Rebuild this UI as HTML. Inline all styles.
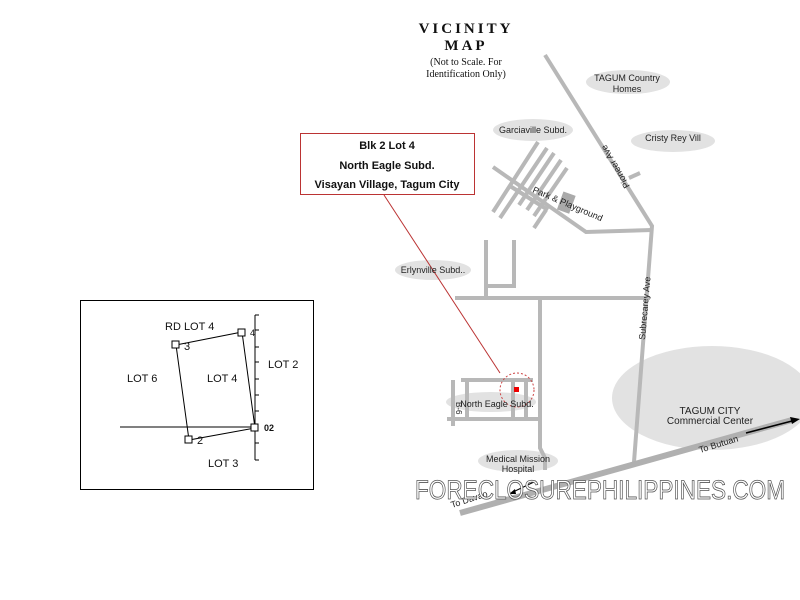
<!DOCTYPE html>
<html><head><style>body{margin:0;background:#fff}svg{display:block}</style></head><body>
<svg width="800" height="600" viewBox="0 0 800 600" xmlns="http://www.w3.org/2000/svg" font-family="Liberation Sans, sans-serif">
<rect width="800" height="600" fill="#fff"/>
<g fill="#e2e2e2">
<ellipse cx="628" cy="82" rx="42" ry="12"/>
<ellipse cx="533" cy="130" rx="40" ry="11"/>
<ellipse cx="673" cy="141" rx="42" ry="11"/>
<ellipse cx="433" cy="270" rx="38" ry="10"/>
<ellipse cx="491" cy="402" rx="45" ry="10"/>
<ellipse cx="518" cy="461" rx="40" ry="11"/>
<ellipse cx="712" cy="398" rx="100" ry="52"/>
</g>
<g stroke="#b8b8b8" stroke-width="4" fill="none">
<polyline points="545,55 652,226 634,462"/>
<line x1="629" y1="178" x2="640" y2="173"/>
<polyline points="493,167 586,232 652,230"/>
<line x1="510" y1="186" x2="548" y2="210"/>
<line x1="538" y1="142" x2="493" y2="212"/>
<line x1="547" y1="148" x2="500" y2="218"/>
<line x1="554" y1="153" x2="519" y2="205"/>
<line x1="561" y1="160" x2="527" y2="210"/>
<line x1="567" y1="168" x2="534" y2="216"/>
<line x1="546" y1="210" x2="534" y2="228"/>
<polyline points="486,240 486,300"/>
<polyline points="514,240 514,286 486,286"/>
<line x1="455" y1="298" x2="650" y2="298"/>
<polyline points="540,298 540,448 545,458 545,470"/>
<line x1="461" y1="380" x2="533" y2="380"/>
<line x1="447" y1="419" x2="540" y2="419"/>
<line x1="467" y1="380" x2="467" y2="419"/>
<line x1="453" y1="380" x2="453" y2="426"/>
<line x1="513" y1="380" x2="513" y2="419"/>
<line x1="526" y1="380" x2="526" y2="419"/>
</g>
<line x1="460" y1="513" x2="792" y2="420" stroke="#b0b0b0" stroke-width="6"/>
<rect x="560" y="193" width="13" height="19" fill="#aaa" transform="rotate(20 566 202)"/>
<line x1="746" y1="433" x2="792" y2="421" stroke="#000" stroke-width="1.5"/>
<polygon points="800,419 790,417 792,424" fill="#000"/>
<line x1="536" y1="481" x2="513" y2="492" stroke="#000" stroke-width="1"/>
<polygon points="509,494 515,489 516,494" fill="#000"/>
<circle cx="517" cy="390" r="17" fill="none" stroke="#c44" stroke-dasharray="2,2"/>
<rect x="514" y="387" width="5" height="5" fill="#e00"/>
<line x1="384" y1="195" x2="500" y2="373" stroke="#b33" stroke-width="1"/>
<rect x="300.5" y="133.5" width="174" height="61" fill="#fff" stroke="#b33"/>
<g font-size="11" font-weight="bold" text-anchor="middle" fill="#111">
<text x="387" y="149">Blk 2 Lot 4</text>
<text x="387" y="169">North Eagle Subd.</text>
<text x="387" y="188">Visayan Village, Tagum City</text>
</g>
<g font-family="Liberation Serif, serif" text-anchor="middle" fill="#111">
<text x="466" y="33" font-size="15" font-weight="bold" letter-spacing="3">VICINITY</text>
<text x="466" y="50" font-size="15" font-weight="bold" letter-spacing="3">MAP</text>
<text x="466" y="65" font-size="10">(Not to Scale.  For</text>
<text x="466" y="77" font-size="10">Identification Only)</text>
</g>
<g font-size="9" fill="#222" text-anchor="middle">
<text x="627" y="81">TAGUM Country</text><text x="627" y="92">Homes</text>
<text x="533" y="133">Garciaville Subd.</text>
<text x="673" y="141">Cristy Rey Vill</text>
<text x="433" y="273">Erlynville Subd..</text>
<text x="497" y="407">North Eagle  Subd.</text>
<text x="518" y="462">Medical Mission</text><text x="518" y="472">Hospital</text>
<text x="710" y="414" font-size="10">TAGUM CITY</text>
<text x="710" y="424" font-size="10">Commercial Center</text>
<text transform="translate(532,192) rotate(23)" text-anchor="start">Park &amp; Playground</text>
<text transform="translate(630,186) rotate(-120)" text-anchor="start">Pioneer Ave</text>
<text transform="translate(645,340) rotate(-85)" text-anchor="start">Subrecarey Ave</text>
<text transform="translate(700,453) rotate(-17)" text-anchor="start">To Butuan</text>
<text transform="translate(452,508) rotate(-18)" text-anchor="start">To Davao</text>
<text transform="translate(456,402) rotate(90)" text-anchor="start" font-size="8">B-6</text>
</g>
<text x="415" y="499" font-size="27" textLength="370" lengthAdjust="spacingAndGlyphs" fill="#fff" stroke="#555" stroke-width="0.8">FORECLOSUREPHILIPPINES.COM</text>
<rect x="80.5" y="300.5" width="233" height="189" fill="none" stroke="#000"/>
<line x1="120" y1="427" x2="255" y2="427" stroke="#000"/>
<line x1="255" y1="315" x2="255" y2="460" stroke="#000"/>
<g stroke="#000">
<line x1="255" y1="315" x2="259" y2="315"/><line x1="255" y1="330" x2="259" y2="330"/><line x1="255" y1="347" x2="259" y2="347"/><line x1="255" y1="362" x2="259" y2="362"/><line x1="255" y1="379" x2="259" y2="379"/><line x1="255" y1="395" x2="259" y2="395"/><line x1="255" y1="411" x2="259" y2="411"/><line x1="255" y1="443" x2="259" y2="443"/><line x1="255" y1="460" x2="259" y2="460"/>
</g>
<polygon points="176,345 242,332 255,428 189,440" fill="none" stroke="#000"/>
<g fill="#fff" stroke="#000">
<rect x="172" y="341" width="7" height="7"/><rect x="238" y="329" width="7" height="7"/><rect x="251" y="424" width="7" height="7"/><rect x="185" y="436" width="7" height="7"/>
</g>
<g font-size="11" fill="#111">
<text x="165" y="330">RD LOT 4</text>
<text x="127" y="382">LOT 6</text>
<text x="207" y="382">LOT 4</text>
<text x="268" y="368">LOT 2</text>
<text x="208" y="467">LOT 3</text>
<text x="184" y="350">3</text>
<text x="197" y="444">2</text>
<text x="250" y="336" font-size="9">4</text>
<text x="264" y="431" font-size="9" font-weight="bold">02</text>
</g>
</svg>
</body></html>
